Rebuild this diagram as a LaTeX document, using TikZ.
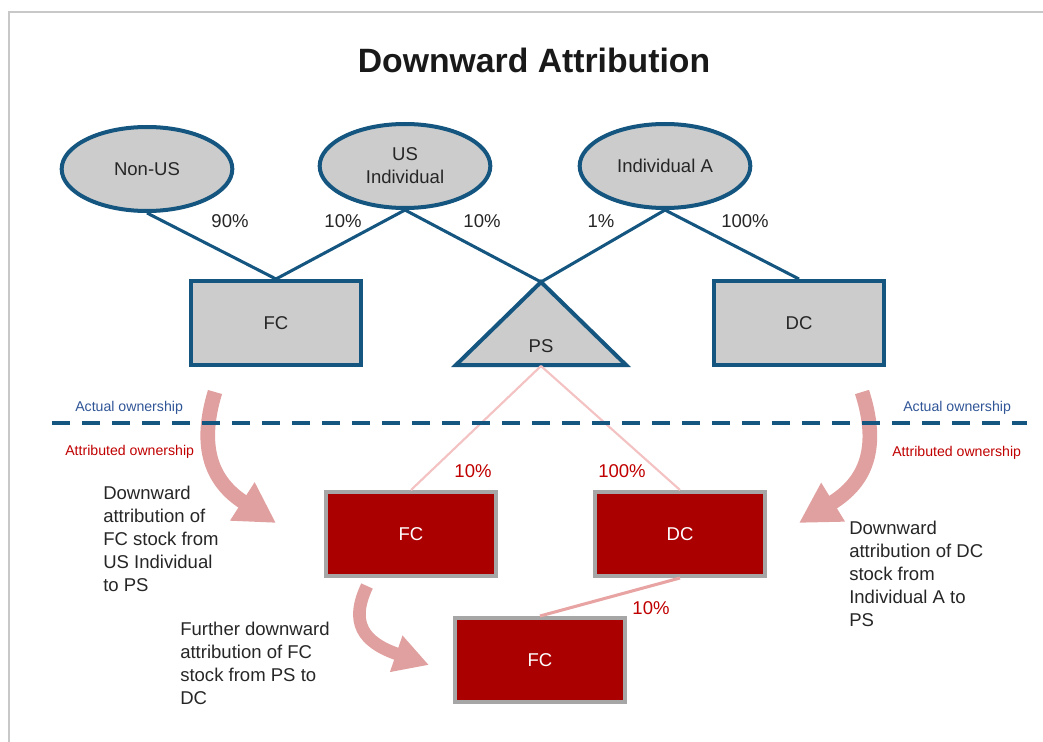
\documentclass[tikz,border=0pt]{standalone}
\usepackage{fontspec}
\setmainfont{Liberation Sans}
\usetikzlibrary{shapes.geometric,arrows.meta}
\definecolor{blu}{RGB}{20,86,128}
\definecolor{gfill}{RGB}{204,204,204}
\definecolor{rfill}{RGB}{170,0,0}
\definecolor{rborder}{RGB}{166,166,166}
\definecolor{rlabel}{RGB}{192,0,0}
\definecolor{albl}{RGB}{47,85,151}
\definecolor{pinkl}{RGB}{244,194,194}
\definecolor{pinkd}{RGB}{232,163,163}
\definecolor{arrc}{RGB}{225,160,160}
\definecolor{txt}{RGB}{38,38,38}
\definecolor{frame}{RGB}{200,200,200}
\tikzset{
  ell/.style={ellipse, draw=blu, fill=gfill, line width=3pt, minimum width=128pt, minimum height=63pt, inner sep=0pt, text=txt, font=\fontsize{13.9}{17.25}\selectfont, align=center},
  gbox/.style={rectangle, draw=blu, fill=gfill, line width=3pt, minimum width=127.5pt, minimum height=63pt, inner sep=0pt, text=txt, font=\fontsize{13.9}{17.25}\selectfont},
  rbox/.style={rectangle, draw=rborder, fill=rfill, line width=3pt, minimum width=128pt, minimum height=63pt, inner sep=0pt, text=white, font=\fontsize{13.9}{17.25}\selectfont},
  bl/.style={draw=blu, line width=2.3pt},
  pct/.style={text=txt, font=\fontsize{13.9}{17.25}\selectfont, inner sep=0pt},
  rpct/.style={text=rlabel, font=\fontsize{13.9}{17.25}\selectfont, inner sep=0pt},
  desc/.style={text=txt, font=\fontsize{13.9}{17.25}\selectfont, inner sep=0pt, align=left, anchor=north west},
  small/.style={font=\fontsize{10.6}{12}\selectfont, inner sep=0pt, anchor=base west},
  bigarrow/.style={draw=arrc, line width=11pt, -{Triangle[length=30pt,width=32pt]}},
}
\begin{document}
\begin{tikzpicture}[x=0.75pt,y=-0.75pt]
\useasboundingbox (0,0) rectangle (1043,742);
% frame
\coordinate (fa) at (9,742);
\coordinate (fb) at (9,12);
\coordinate (fc0) at (1043,12);
\draw[frame, line width=1.5pt] (fa) -- (fb) -- (fc0);
% title
\node[font=\fontsize{25.3}{30}\selectfont\bfseries, text=black!90, inner sep=0pt] (title) at (534,60) {Downward Attribution};

% top ellipses
\node[ell] (nonus) at (147,169) {Non-US};
\node[ell] (usind) at (405,166) {US\\Individual};
\node[ell] (inda) at (665,166) {Individual A};

% top boxes
\node[gbox] (fc) at (276,323) {FC};
\node[gbox] (dc) at (799,323) {DC};

% PS triangle
\coordinate (psapex) at (541,282);
\coordinate (psl) at (456,365);
\coordinate (psr) at (626,365);
\coordinate (psbase) at (541,366);
\draw[draw=blu, fill=gfill, line width=3pt, line join=miter] (psapex) -- (psr) -- (psl) -- cycle;
\node[pct] (ps) at (541,346) {PS};

% blue connectors
\draw[bl] (nonus.south) -- (fc.north);
\draw[bl] (usind.south) -- (fc.north);
\draw[bl] (usind.south) -- (psapex);
\draw[bl] (inda.south) -- (psapex);
\draw[bl] (inda.south) -- (dc.north);

% top percentages
\node[pct] (p1) at (230,221) {90\%};
\node[pct] (p2) at (343,221) {10\%};
\node[pct] (p3) at (482,221) {10\%};
\node[pct] (p4) at (601,221) {1\%};
\node[pct] (p5) at (745,221) {100\%};

% red boxes
\node[rbox] (fc2) at (411,534) {FC};
\node[rbox] (dc2) at (680,534) {DC};
\node[rbox] (fc3) at (540,660) {FC};

% pink connectors
\draw[pinkl, line width=1.6pt] (psbase) -- (fc2.north);
\draw[pinkl, line width=1.6pt] (psbase) -- (dc2.north);
\draw[pinkd, line width=2.3pt] (dc2.south) -- (fc3.north);

% red percentages
\node[rpct] (r1) at (473,471) {10\%};
\node[rpct] (r2) at (622,471) {100\%};
\node[rpct] (r3) at (651,608) {10\%};

% big curved arrows
\coordinate (a1s) at (215,392);
\coordinate (a1e) at (276,523);
\draw[bigarrow] (a1s) .. controls (198,448) and (212,482) .. (a1e);
\coordinate (a2s) at (862,392);
\coordinate (a2e) at (799,523);
\draw[bigarrow] (a2s) .. controls (880,448) and (866,482) .. (a2e);
\coordinate (a3s) at (367,586);
\coordinate (a3e) at (429,665);
\draw[draw=arrc, line width=9.5pt, -{Triangle[length=26pt,width=27pt]}] (a3s) .. controls (350,622) and (362,642) .. (a3e);

% dashed divider
\coordinate (dl) at (52,423);
\coordinate (dr) at (1027,423);
\draw[blu, line width=3pt, dash pattern=on 13.5pt off 9pt] (dl) -- (dr);

% ownership labels
\node[small, text=albl] (ao1) at (75,411) {Actual ownership};
\node[small, text=albl] (ao2) at (903,411) {Actual ownership};
\node[small, text=rlabel] (at1) at (65,455) {Attributed ownership};
\node[small, text=rlabel] (at2) at (892,456) {Attributed ownership};

% descriptions
\node[desc] (d1) at (103,486) {Downward\\attribution of\\FC stock from\\US Individual\\to PS};
\node[desc] (d2) at (849,521) {Downward\\attribution of DC\\stock from\\Individual A to\\PS};
\node[desc] (d3) at (180,622) {Further downward\\attribution of FC\\stock from PS to\\DC};
\end{tikzpicture}
\end{document}
